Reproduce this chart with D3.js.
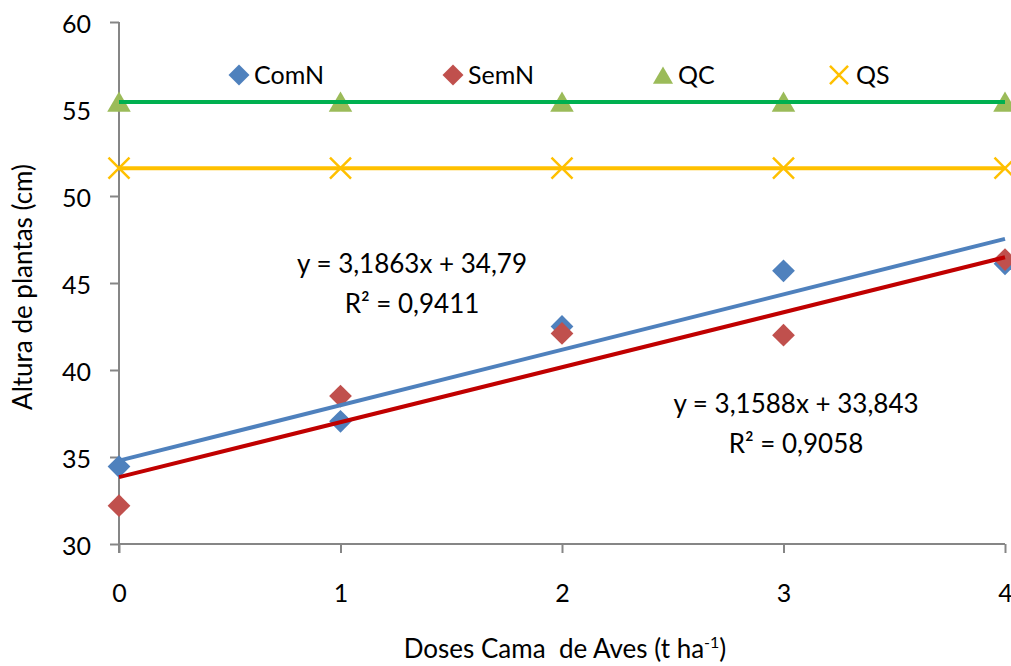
<!DOCTYPE html>
<html>
<head>
<meta charset="utf-8">
<script src="https://cdn.jsdelivr.net/npm/d3@7"></script>
<style>
    html, body { margin: 0; padding: 0; background: #fff; overflow: hidden; }
    svg { display: block; font-family: Lato, "Open Sans", sans-serif; }
</style>
</head>
<body>
<div id="chart"></div>
<script>
// Data
const doses = [0, 1, 2, 3, 4];
const comN = [34.45, 37.05, 42.5, 45.7, 46.1];
const semN = [32.2, 38.5, 42.1, 42.0, 46.35];
const qc = [55.4, 55.4, 55.4, 55.4, 55.4];
const qs = [51.6, 51.6, 51.6, 51.6, 51.6];
const yTicks = [30, 35, 40, 45, 50, 55, 60];
const trendComN = { slope: 3.1863, intercept: 34.79, label: 'y = 3,1863x + 34,79', r2: 'R² = 0,9411' };
const trendSemN = { slope: 3.1588, intercept: 33.843, label: 'y = 3,1588x + 33,843', r2: 'R² = 0,9058' };

const COLORS = {
    axis: '#868686',
    comN: '#4F81BD',
    semN: '#C0504D',
    trendSemN: '#C00000',
    qcLine: '#00B050',
    qcMarker: '#9BBB59',
    qs: '#FFC000',
    text: '#000'
};

const width = 1011, height = 666;
const margin = { top: 22, right: 6, bottom: 122, left: 119 };

const svg = d3.select('#chart').append('svg')
    .attr('width', width)
    .attr('height', height);

const g = svg.append('g').attr('transform', `translate(${margin.left},${margin.top})`);
const w = width - margin.left - margin.right;
const h = height - margin.top - margin.bottom;

const x = d3.scaleLinear().domain([0, 4]).range([0, w]);
const y = d3.scaleLinear().domain([30, 60]).range([h, 0]);

// Axes
const yAxis = g.append('g')
    .call(d3.axisLeft(y).tickValues(yTicks).tickSize(9).tickPadding(19).tickFormat(d3.format('d')));
const xAxis = g.append('g')
    .attr('transform', `translate(0,${h})`)
    .call(d3.axisBottom(x).tickValues(doses).tickSize(9).tickPadding(31).tickFormat(d3.format('d')));

[xAxis, yAxis].forEach(a => {
    a.select('.domain').attr('stroke', COLORS.axis).attr('stroke-width', 2);
    a.selectAll('.tick line').attr('stroke', COLORS.axis).attr('stroke-width', 2);
    a.selectAll('text').attr('fill', COLORS.text).style('font-size', '25px').style('font-family', 'Lato, sans-serif');
});
yAxis.selectAll('text').attr('dy', '0.42em');
// plain domain lines without outer ticks
yAxis.select('.domain').attr('d', `M0,0V${h + 9}`);
xAxis.select('.domain').attr('d', `M0,0H${w}`);

// Markers
const diamond = d3.symbol().type(d3.symbolDiamond2).size(330);
const triangle = d3.symbol().type(d3.symbolTriangle).size(240);
const cross = d3.symbol().type(d3.symbolTimes).size(290);

function markers(values, sym, attrs, dy = 0) {
    const sel = g.append('g').selectAll('path').data(values).join('path')
        .attr('transform', (d, i) => `translate(${x(doses[i])},${y(d) + dy})`)
        .attr('d', sym);
    Object.entries(attrs).forEach(([k, v]) => sel.attr(k, v));
}

markers(qc, triangle, { fill: COLORS.qcMarker }, 3);
markers(qs, cross, { fill: 'none', stroke: COLORS.qs, 'stroke-width': 2.5 });
markers(comN, diamond, { fill: COLORS.comN });
markers(semN, diamond, { fill: COLORS.semN });

// Lines
const line = d3.line().x((d, i) => x(doses[i])).y(d => y(d));
g.append('path').datum(qc).attr('d', line).attr('fill', 'none').attr('stroke', COLORS.qcLine).attr('stroke-width', 4);
g.append('path').datum(qs).attr('d', line).attr('fill', 'none').attr('stroke', COLORS.qs).attr('stroke-width', 4);

function trend(t, color) {
    const pts = [0, 4].map(v => [x(v), y(t.intercept + t.slope * v)]);
    g.append('path').attr('d', d3.line()(pts)).attr('fill', 'none').attr('stroke', color).attr('stroke-width', 4);
}
trend(trendComN, COLORS.comN);
trend(trendSemN, COLORS.trendSemN);

// Equation labels
function eqLabel(t, cx, cy) {
    const txt = svg.append('g').attr('font-size', '26px').attr('fill', COLORS.text).attr('text-anchor', 'middle');
    txt.append('text').attr('x', cx).attr('y', cy).text(t.label);
    txt.append('text').attr('x', cx).attr('y', cy + 40).text(t.r2);
}
eqLabel(trendComN, 412, 273);
eqLabel(trendSemN, 796, 413);

// Legend
const legendItems = [
    { name: 'ComN', sym: d3.symbol().type(d3.symbolDiamond2).size(280), fill: COLORS.comN, x: 239, dy: 0 },
    { name: 'SemN', sym: d3.symbol().type(d3.symbolDiamond2).size(280), fill: COLORS.semN, x: 453, dy: 0 },
    { name: 'QC', sym: d3.symbol().type(d3.symbolTriangle).size(175), fill: COLORS.qcMarker, x: 663, dy: 3 },
    { name: 'QS', sym: d3.symbol().type(d3.symbolTimes).size(215), stroke: COLORS.qs, x: 839, dy: 0 }
];
const legend = svg.append('g');
const li = legend.selectAll('g').data(legendItems).join('g')
    .attr('transform', d => `translate(${d.x},75)`);
li.append('path')
    .attr('d', d => d.sym())
    .attr('transform', d => `translate(0,${d.dy})`)
    .attr('fill', d => d.fill || 'none')
    .attr('stroke', d => d.stroke || 'none')
    .attr('stroke-width', 2.5);
li.append('text')
    .attr('x', d => d.name === 'QS' ? 17 : 15).attr('y', 9)
    .attr('font-size', '25px')
    .attr('fill', COLORS.text)
    .text(d => d.name);

// Axis titles
svg.append('text')
    .attr('transform', 'translate(32,287) rotate(-90)')
    .attr('text-anchor', 'middle')
    .attr('font-size', '26px')
    .attr('fill', COLORS.text)
    .text('Altura de plantas (cm)');

const xt = svg.append('text')
    .attr('x', 565).attr('y', 658)
    .attr('text-anchor', 'middle')
    .attr('font-size', '26px')
    .attr('fill', COLORS.text)
    .style('white-space', 'pre');
xt.append('tspan').text('Doses Cama  de Aves (t ha');
xt.append('tspan').attr('dy', -10).attr('font-size', '16px').text('-1');
xt.append('tspan').attr('dy', 10).text(')');
</script>
</body>
</html>
